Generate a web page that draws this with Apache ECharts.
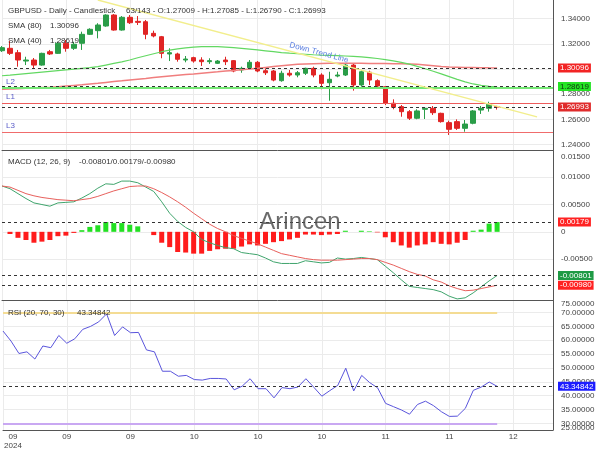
<!DOCTYPE html>
<html>
<head>
<meta charset="utf-8">
<script src="https://cdn.jsdelivr.net/npm/echarts@6/dist/echarts.min.js"></script>
<style>
html,body{margin:0;padding:0;background:#fff;}
#main{width:600px;height:450px;}
</style>
</head>
<body>
<div id="main"></div>
<script>
var FONT = '"Liberation Sans", Arial, sans-serif';

// x axis: 63 candles + empty room on the right, label every 8th slot
var slotCount = 70;
var monthLabels = ['09', '09', '09', '10', '10', '10', '11', '11', '12'];
var yearLabel = '2024';
var totalBars = 143;

// candles: [open, close, low, high]
var candles = [
    [1.3146, 1.3170, 1.3136, 1.3183], [1.3165, 1.3125, 1.3112, 1.3223], [1.3130, 1.3072, 1.3019, 1.3152],
    [1.3064, 1.3072, 1.3032, 1.3098], [1.3072, 1.3032, 1.3009, 1.3088], [1.3032, 1.3125, 1.3027, 1.3130],
    [1.3138, 1.3120, 1.3112, 1.3152], [1.3125, 1.3205, 1.3120, 1.3217], [1.3205, 1.3165, 1.3138, 1.3231],
    [1.3165, 1.3197, 1.3152, 1.3217], [1.3205, 1.3276, 1.3152, 1.3297], [1.3276, 1.3316, 1.3271, 1.3324],
    [1.3305, 1.3350, 1.3244, 1.3364], [1.3342, 1.3429, 1.3336, 1.3435], [1.3429, 1.3310, 1.3305, 1.3437],
    [1.3310, 1.3411, 1.3305, 1.3421], [1.3411, 1.3368, 1.3358, 1.3429], [1.3379, 1.3371, 1.3350, 1.3421],
    [1.3376, 1.3276, 1.3237, 1.3390], [1.3284, 1.3263, 1.3252, 1.3305], [1.3257, 1.3125, 1.3086, 1.3263],
    [1.3120, 1.3130, 1.3064, 1.3165], [1.3120, 1.3078, 1.3059, 1.3130], [1.3072, 1.3080, 1.3054, 1.3104],
    [1.3091, 1.3064, 1.3051, 1.3098], [1.3072, 1.3059, 1.3025, 1.3094], [1.3059, 1.3067, 1.3041, 1.3086],
    [1.3046, 1.3064, 1.3041, 1.3072], [1.3072, 1.3059, 1.3032, 1.3098], [1.3067, 1.2985, 1.2975, 1.3072],
    [1.2993, 1.3006, 1.2971, 1.3019], [1.3011, 1.3054, 1.2999, 1.3072], [1.3054, 1.2985, 1.2975, 1.3064],
    [1.2987, 1.2971, 1.2953, 1.3006], [1.2985, 1.2913, 1.2903, 1.2993], [1.2908, 1.2967, 1.2900, 1.2987],
    [1.2967, 1.2953, 1.2940, 1.2993], [1.2953, 1.2971, 1.2935, 1.2985], [1.2967, 1.3006, 1.2953, 1.3011],
    [1.3006, 1.2953, 1.2935, 1.3019], [1.2953, 1.2887, 1.2840, 1.2967], [1.2892, 1.2919, 1.2749, 1.2979],
    [1.2945, 1.2953, 1.2935, 1.2979], [1.2953, 1.3032, 1.2945, 1.3046], [1.3032, 1.2874, 1.2829, 1.3041],
    [1.2874, 1.2979, 1.2860, 1.2993], [1.2975, 1.2913, 1.2874, 1.2987], [1.2908, 1.2866, 1.2856, 1.2919],
    [1.2860, 1.2729, 1.2715, 1.2866], [1.2729, 1.2697, 1.2681, 1.2760], [1.2702, 1.2662, 1.2622, 1.2715],
    [1.2662, 1.2610, 1.2596, 1.2675], [1.2610, 1.2668, 1.2602, 1.2681], [1.2681, 1.2689, 1.2604, 1.2694],
    [1.2689, 1.2654, 1.2636, 1.2707], [1.2649, 1.2583, 1.2575, 1.2654], [1.2575, 1.2522, 1.2477, 1.2591],
    [1.2583, 1.2530, 1.2517, 1.2601], [1.2530, 1.2564, 1.2503, 1.2596], [1.2570, 1.2668, 1.2562, 1.2675],
    [1.2675, 1.2689, 1.2644, 1.2707], [1.2689, 1.2721, 1.2662, 1.2741], [1.27009, 1.26993, 1.26790, 1.27085]
];

var sma80 = [
    1.2840, 1.2843, 1.2845, 1.2848, 1.2850, 1.2853, 1.2856, 1.2860, 1.2865, 1.2870,
    1.2875, 1.2881, 1.2887, 1.2894, 1.2901, 1.2907, 1.2914, 1.2920, 1.2926, 1.2933,
    1.2940, 1.2946, 1.2952, 1.2957, 1.2962, 1.2968, 1.2973, 1.2978, 1.2984, 1.2989,
    1.2995, 1.3000, 1.3006, 1.3013, 1.3020, 1.3027, 1.3033, 1.3038, 1.3041, 1.3043,
    1.3045, 1.3046, 1.3046, 1.3046, 1.3046, 1.3046, 1.3045, 1.3045, 1.3044, 1.3043,
    1.3042, 1.3041, 1.3038, 1.3033, 1.3027, 1.3021, 1.3017, 1.3015, 1.3013, 1.3012,
    1.3011, 1.3010, 1.30096
];

var sma40 = [
    1.2947, 1.2952, 1.2958, 1.2964, 1.2970, 1.2976, 1.2982, 1.2988, 1.2994, 1.3000,
    1.3006, 1.3012, 1.3019, 1.3032, 1.3045, 1.3058, 1.3072, 1.3090, 1.3106, 1.3122,
    1.3138, 1.3150, 1.3160, 1.3168, 1.3174, 1.3178, 1.3179, 1.3178, 1.3175, 1.3170,
    1.3164, 1.3158, 1.3152, 1.3145, 1.3138, 1.3131, 1.3126, 1.3122, 1.3118, 1.3114,
    1.3111, 1.3109, 1.3107, 1.3104, 1.3101, 1.3097, 1.3091, 1.3084, 1.3075, 1.3065,
    1.3054, 1.3039, 1.3022, 1.3003, 1.2983, 1.2962, 1.2940, 1.2918, 1.2899, 1.2882,
    1.2871, 1.2863, 1.28619
];

// MACD (12, 26, 9)
var macdLine = [
    0.0084, 0.0079, 0.0070, 0.0061, 0.0053, 0.0050, 0.0047, 0.0053, 0.0054, 0.0055,
    0.0062, 0.0070, 0.0080, 0.0088, 0.0087, 0.0093, 0.0093, 0.0090, 0.0082, 0.0074,
    0.0055, 0.0034, 0.0019, 0.0008, 0.0000, -0.0014, -0.0020, -0.0025, -0.0029, -0.0031,
    -0.0038, -0.0040, -0.0042, -0.0048, -0.0055, -0.0058, -0.0058, -0.0058, -0.0053, -0.0055,
    -0.0057, -0.0056, -0.0048, -0.0050, -0.0049, -0.0047, -0.0049, -0.0051, -0.0063, -0.0075,
    -0.0088, -0.0100, -0.0102, -0.0104, -0.0106, -0.0110, -0.0118, -0.0123, -0.0121, -0.0112,
    -0.0101, -0.0090, -0.00801
];
var signalLine = [
    0.0084, 0.0082, 0.0076, 0.0070, 0.0066, 0.0063, 0.0061, 0.0059, 0.0058, 0.0057,
    0.0059, 0.0061, 0.0065, 0.0070, 0.0075, 0.0079, 0.0083, 0.0084, 0.0084, 0.0079,
    0.0072, 0.0064, 0.0055, 0.0045, 0.0034, 0.0024, 0.0014, 0.0006, 0.0000, -0.0007,
    -0.0012, -0.0017, -0.0022, -0.0028, -0.0034, -0.0040, -0.0043, -0.0046, -0.0049, -0.0051,
    -0.0052, -0.0052, -0.0052, -0.0051, -0.0050, -0.0049, -0.0049, -0.0051, -0.0056, -0.0061,
    -0.0067, -0.0073, -0.0078, -0.0081, -0.0088, -0.0092, -0.0099, -0.0104, -0.0108, -0.0107,
    -0.0104, -0.0101, -0.0098
];
var macdHist = [
    0, -0.0004, -0.0011, -0.0015, -0.0020, -0.0018, -0.0015, -0.0008, -0.0007, -0.0002,
    0.0003, 0.0009, 0.0012, 0.0018, 0.0016, 0.0016, 0.0013, 0.0010, 0, -0.0006,
    -0.0020, -0.0028, -0.0037, -0.0038, -0.0040, -0.0040, -0.0035, -0.0032, -0.0031, -0.0031,
    -0.0027, -0.0023, -0.0025, -0.0022, -0.0019, -0.0017, -0.0014, -0.0011, -0.0005, -0.0005,
    -0.0006, -0.0005, -0.0004, 0.0002, 0, 0.0002, 0.0001, -0.0001, -0.0010, -0.0019,
    -0.0025, -0.0029, -0.0025, -0.0023, -0.0019, -0.0022, -0.0023, -0.0020, -0.0015, 0.0002,
    0.0004, 0.0015, 0.00179
];

// RSI (20, 70, 30)
var rsiLine = [
    63.3, 59.7, 55.2, 55.8, 53.2, 57.9, 57.3, 61.7, 58.9, 60.5,
    63.9, 65.0, 66.6, 69.5, 61.7, 64.8, 62.7, 62.8, 56.5, 55.8,
    48.8, 48.8, 47.0, 47.3, 45.8, 45.6, 46.2, 46.2, 46.0, 42.1,
    43.4, 46.1, 42.5, 42.5, 39.2, 42.9, 42.5, 43.1, 46.1, 43.0,
    39.8, 41.8, 43.7, 49.9, 41.7, 47.3, 44.7, 42.8, 37.2, 36.0,
    34.8, 33.3, 36.8, 38.0, 36.4, 34.2, 32.5, 32.6, 35.4, 41.9,
    43.1, 44.9, 43.34842
];
var rsiLast = 43.34842;
var rsiHigh = 70, rsiLow = 30;

// horizontal levels drawn on the price panel
var levelNames = ['L2', 'L1', 'L3'];
var levelValues = [1.285, 1.273, 1.25];
var levelColors = ['#74e874', '#ee5c5c', '#f06c6c'];
var levelWidths = [2, 1.2, 1.2];

// down trend line end points [slot, price]
var trendLine = [[12, 1.3548], [67, 1.2621]];

// tick labels on the right axes
var priceTicks = [1.24, 1.26, 1.28, 1.30, 1.32, 1.34];
var macdTicks = [-0.005, 0, 0.005, 0.01];
var rsiTicks = [30, 35, 40, 45, 50, 55, 60, 65, 70];
// labels pushed inside the panel edges
var macdEdgeLabels = [0.015];
var rsiEdgeLabels = [75, 25];

var slots = [];
for (var i = 0; i < slotCount; i++) {
    slots.push(String(i));
}
var last = candles[candles.length - 1];
var sma80Last = sma80[sma80.length - 1];
var sma40Last = sma40[sma40.length - 1];
var macdLast = macdLine[macdLine.length - 1];
var signalLast = signalLine[signalLine.length - 1];
var histLast = macdHist[macdHist.length - 1];

function fx(v) {
    return v.toFixed(5);
}

function text(x, y, str, color, size) {
    return {
        type: 'text', x: x, y: y, z: 100, silent: true,
        style: {
            text: str, fill: color || '#333', fontSize: size || 8, fontFamily: FONT,
            verticalAlign: 'middle'
        }
    };
}

// dashed line with a coloured tag on the right axis
function tagLine(value, bg, fg, str) {
    return {
        yAxis: value,
        lineStyle: {color: '#333', type: [3, 3], width: 1},
        label: {
            show: true, position: 'end', distance: 5, formatter: str,
            backgroundColor: bg, color: fg, padding: [1, 2, 0, 2],
            fontSize: 8, fontFamily: FONT
        }
    };
}

function xAxisFor(gridIndex, showLabels) {
    return {
        type: 'category', gridIndex: gridIndex, data: slots, boundaryGap: false,
        axisLine: {show: true, onZero: false, lineStyle: {color: '#555', width: 1}},
        axisTick: {show: false},
        axisLabel: {
            show: showLabels, interval: 7, fontSize: 8, color: '#444', fontFamily: FONT,
            margin: 2, lineHeight: 9, alignMinLabel: 'left',
            formatter: function (v, idx) {
                var m = monthLabels[idx / 8];
                if (idx === 0) {
                    return '{a|' + m + '}\n{a|' + yearLabel + '}';
                }
                return m;
            },
            rich: {a: {width: 20, align: 'center', fontSize: 8, color: '#444', lineHeight: 9, fontFamily: FONT}}
        },
        splitLine: {show: true, interval: 7, lineStyle: {color: '#ebebeb'}}
    };
}

function yAxisFor(gridIndex, min, max, ticks, fmt) {
    return {
        type: 'value', gridIndex: gridIndex, position: 'right', min: min, max: max,
        axisLine: {show: true, lineStyle: {color: '#555', width: 1}},
        axisTick: {show: false, customValues: ticks},
        axisLabel: {
            customValues: ticks, formatter: fmt, fontSize: 8, color: '#444',
            fontFamily: FONT, margin: 8
        },
        splitLine: {show: true, lineStyle: {color: '#ebebeb'}}
    };
}

function loadChart() {
    var myChart = echarts.init(document.getElementById('main'));

    var priceMarks = [];
    for (var k = 0; k < levelValues.length; k++) {
        priceMarks.push({
            yAxis: levelValues[k],
            lineStyle: {color: levelColors[k], width: levelWidths[k], type: 'solid'},
            label: {
                show: true, position: 'insideStartTop', distance: [4, 2], formatter: levelNames[k],
                color: '#5a5cc8', fontSize: 8, fontFamily: FONT
            }
        });
        priceMarks.push({
            yAxis: levelValues[k],
            lineStyle: {opacity: 0},
            label: {
                show: true, position: 'insideEndTop', distance: [34, 0], formatter: fx(levelValues[k]),
                color: '#6d8ee6', fontSize: 8, fontFamily: FONT
            }
        });
    }
    priceMarks.push(tagLine(sma80Last, '#f22424', '#fff', fx(sma80Last)));
    priceMarks.push(tagLine(sma40Last, '#24e424', '#113311', fx(sma40Last)));
    priceMarks.push(tagLine(last[1], '#e02c2c', '#fff', fx(last[1])));
    priceMarks.push([
        {
            coord: trendLine[0],
            lineStyle: {color: '#f2ee8c', width: 1.5, type: 'solid'},
            label: {
                show: true, position: 'insideMiddleTop', distance: 2, formatter: 'Down Trend Line',
                color: '#5b7fe0', fontSize: 8, fontFamily: FONT
            }
        },
        {coord: trendLine[1]}
    ]);

    var option = {
        animation: false,
        backgroundColor: '#fff',
        textStyle: {fontFamily: FONT},
        grid: [
            {left: 2, right: 47, top: 0, height: 150},
            {left: 2, right: 47, top: 150, height: 150},
            {left: 2, right: 47, top: 300, height: 132}
        ],
        xAxis: [xAxisFor(0, false), xAxisFor(1, false), xAxisFor(2, true)],
        yAxis: [
            yAxisFor(0, 1.23579, 1.35484, priceTicks, fx),
            yAxisFor(1, -0.0125, 0.015, macdTicks, function (v) { return v === 0 ? '0' : fx(v); }),
            yAxisFor(2, 27.6, 74.5, rsiTicks, fx)
        ],
        graphic: [
            text(8, 10.7, 'GBPUSD - Daily - Candlestick'),
            text(126, 10.7, candles.length + '/' + totalBars + ' - O:' + fx(last[0]) + ' - H:' + fx(last[3]) +
                ' - L:' + fx(last[2]) + ' - C:' + fx(last[1])),
            text(8, 25.7, 'SMA (80)'),
            text(50, 25.7, fx(sma80Last)),
            text(8, 40.7, 'SMA (40)'),
            text(50, 40.7, fx(sma40Last)),
            text(8, 161.7, 'MACD (12, 26, 9)'),
            text(79, 161.7, fx(macdLast) + '/' + fx(histLast) + '/' + fx(signalLast)),
            text(8, 312.7, 'RSI (20, 70, 30)'),
            text(77, 312.7, fx(rsiLast)),
            text(561, 157, fx(macdEdgeLabels[0]), '#444'),
            text(561, 304, fx(rsiEdgeLabels[0]), '#444'),
            text(561, 428, fx(rsiEdgeLabels[1]), '#444'),
            {
                type: 'text', x: 300, y: 222, z: 90, silent: true,
                style: {
                    text: 'Arincen', fill: 'rgba(80,80,80,0.85)', fontSize: 24, fontFamily: FONT,
                    align: 'center', verticalAlign: 'middle'
                }
            }
        ],
        series: [
            {
                name: 'GBPUSD', type: 'candlestick', xAxisIndex: 0, yAxisIndex: 0,
                data: candles, barWidth: 5,
                itemStyle: {color: '#2a9d48', color0: '#e02424', borderColor: '#2a9d48', borderColor0: '#e02424', borderWidth: 1},
                markLine: {symbol: ['none', 'none'], silent: true, precision: 6, data: priceMarks}
            },
            {
                name: 'SMA (80)', type: 'line', xAxisIndex: 0, yAxisIndex: 0, data: sma80,
                symbol: 'none', lineStyle: {color: '#f07e7e', width: 1.5}
            },
            {
                name: 'SMA (40)', type: 'line', xAxisIndex: 0, yAxisIndex: 0, data: sma40,
                symbol: 'none', lineStyle: {color: '#62d862', width: 1.2}
            },
            {
                name: 'Histogram', type: 'bar', xAxisIndex: 1, yAxisIndex: 1, data: macdHist, barWidth: 5,
                itemStyle: {
                    color: function (p) { return p.value >= 0 ? '#22e022' : '#ff1c1c'; }
                },
                markLine: {
                    symbol: ['none', 'none'], silent: true, precision: 6,
                    data: [
                        tagLine(histLast, '#ff2222', '#fff', fx(histLast)),
                        tagLine(macdLast, '#1f9a45', '#fff', fx(macdLast)),
                        tagLine(signalLast, '#ff2222', '#fff', fx(signalLast))
                    ]
                }
            },
            {
                name: 'MACD', type: 'line', xAxisIndex: 1, yAxisIndex: 1, data: macdLine,
                symbol: 'none', lineStyle: {color: '#3fa46c', width: 1}
            },
            {
                name: 'Signal', type: 'line', xAxisIndex: 1, yAxisIndex: 1, data: signalLine,
                symbol: 'none', lineStyle: {color: '#e8605c', width: 1}
            },
            {
                name: 'RSI', type: 'line', xAxisIndex: 2, yAxisIndex: 2, data: rsiLine,
                symbol: 'none', lineStyle: {color: '#5a55dc', width: 1},
                markLine: {
                    symbol: ['none', 'none'], silent: true, precision: 6,
                    data: [
                        [{coord: [0, rsiHigh], lineStyle: {color: '#f4dc94', width: 2, type: 'solid'}, label: {show: false}},
                            {coord: [candles.length - 1, rsiHigh]}],
                        [{coord: [0, rsiLow], lineStyle: {color: '#c9a8f2', width: 2, type: 'solid'}, label: {show: false}},
                            {coord: [candles.length - 1, rsiLow]}],
                        tagLine(rsiLast, '#1c1cff', '#fff', fx(rsiLast))
                    ]
                }
            }
        ]
    };

    myChart.setOption(option);
}

loadChart();
</script>
</body>
</html>
